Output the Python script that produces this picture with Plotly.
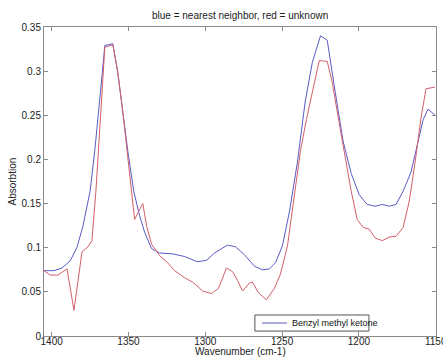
import plotly.graph_objects as go

# Blue = nearest neighbor (Benzyl methyl ketone)
blue_wn = [1405, 1398.5, 1393.3, 1388, 1383.6, 1379.7, 1375, 1372, 1368.6, 1365.4, 1360.2,
           1357, 1353.7, 1350.4, 1346.6, 1342.7, 1339.4, 1335, 1329.7, 1321.2, 1313.4, 1305,
           1299, 1294, 1285.5, 1280.3, 1274.5, 1268, 1262.8, 1258.2, 1254.3, 1249.8, 1245.2,
           1240, 1235, 1230.3, 1225, 1220.6, 1215.4, 1210.2, 1205, 1199.8, 1194.6, 1189.4,
           1184.8, 1180.3, 1175.8, 1171.2, 1166, 1162.1, 1158.2, 1155, 1150.4]
blue_abs = [0.074, 0.074, 0.077, 0.085, 0.100, 0.124, 0.164, 0.209, 0.270, 0.329, 0.331,
            0.299, 0.254, 0.209, 0.164, 0.136, 0.117, 0.099, 0.094, 0.093, 0.090, 0.084,
            0.086, 0.094, 0.103, 0.101, 0.092, 0.079, 0.075, 0.076, 0.083, 0.102, 0.141,
            0.197, 0.265, 0.310, 0.340, 0.335, 0.276, 0.220, 0.184, 0.160, 0.149, 0.147,
            0.149, 0.147, 0.149, 0.164, 0.186, 0.214, 0.245, 0.257, 0.250]

# Red = unknown
red_wn = [1405, 1401, 1396, 1390, 1385.5, 1380.3, 1376.4, 1373.8, 1371.2, 1368.6, 1365.4,
          1360.2, 1357, 1353.7, 1350.4, 1347.9, 1346, 1344, 1340.7, 1338.1, 1335, 1329.7,
          1324.5, 1320, 1313.4, 1308.2, 1301.7, 1296, 1291.4, 1286.2, 1282.3, 1279, 1275.8,
          1271.2, 1269.3, 1265.4, 1260.2, 1255, 1251.1, 1246.5, 1242, 1238.1, 1234.2, 1230.3,
          1225.8, 1220.6, 1217.3, 1214.1, 1209.5, 1205, 1201.1, 1197.2, 1193.3, 1189.4,
          1184.8, 1180.3, 1175.8, 1171.2, 1167.3, 1163.4, 1159.5, 1156.3, 1150.4]
red_abs = [0.074, 0.069, 0.069, 0.076, 0.029, 0.095, 0.101, 0.108, 0.164, 0.242, 0.327,
           0.330, 0.299, 0.254, 0.203, 0.164, 0.132, 0.139, 0.150, 0.124, 0.104, 0.091,
           0.083, 0.074, 0.066, 0.061, 0.051, 0.048, 0.054, 0.077, 0.073, 0.063, 0.051,
           0.060, 0.061, 0.049, 0.041, 0.054, 0.070, 0.102, 0.158, 0.209, 0.245, 0.276,
           0.312, 0.311, 0.287, 0.254, 0.209, 0.164, 0.132, 0.123, 0.121, 0.111,
           0.108, 0.112, 0.113, 0.123, 0.152, 0.197, 0.248, 0.280, 0.282]

x_ticks = [1400, 1350, 1300, 1250, 1200, 1150]
y_ticks = [0, 0.05, 0.1, 0.15, 0.2, 0.25, 0.3, 0.35]
y_ticktext = ["0", "0.05", "0.1", "0.15", "0.2", "0.25", "0.3", "0.35"]
legend_label = "Benzyl methyl ketone"

BLUE = "rgb(90,90,200)"
RED = "rgb(212,95,105)"
FONT = "Liberation Sans, Arial, sans-serif"

fig = go.Figure()
fig.add_trace(go.Scatter(x=blue_wn, y=blue_abs, mode="lines", name=legend_label,
                         line=dict(color=BLUE, width=1), showlegend=False))
fig.add_trace(go.Scatter(x=red_wn, y=red_abs, mode="lines", name="unknown",
                         line=dict(color=RED, width=1), showlegend=False))

axis_common = dict(showgrid=False, zeroline=False, showline=True, linecolor="#8a8a8a",
                   linewidth=1, mirror="ticks", ticks="inside", ticklen=4, automargin=False,
                   tickcolor="#8a8a8a", tickfont=dict(family=FONT, size=10, color="#222"))

# legend box drawn as layout decoration (paper coordinates)
lg_x0, lg_x1, lg_y0, lg_y1 = 0.538, 0.829, 0.016, 0.068
lg_ymid = (lg_y0 + lg_y1) / 2

fig.update_layout(
    width=443, height=358,
    margin=dict(l=44, r=7, t=27, b=22),
    paper_bgcolor="white", plot_bgcolor="white",
    font=dict(family=FONT, size=10, color="#222"),
    xaxis=dict(range=[1405, 1149.8], tickvals=x_ticks, ticklabelstandoff=-4,
               ticklabeloverflow="allow", **axis_common),
    yaxis=dict(range=[0, 0.35], tickvals=y_ticks, ticktext=y_ticktext, **axis_common),
    showlegend=False,
    shapes=[
        dict(type="rect", xref="paper", yref="paper", x0=lg_x0, x1=lg_x1, y0=lg_y0, y1=lg_y1,
             line=dict(color="#555", width=1), fillcolor="white", layer="above"),
        dict(type="line", xref="paper", yref="paper", x0=0.556, x1=0.620, y0=lg_ymid,
             y1=lg_ymid, line=dict(color=BLUE, width=1), layer="above"),
    ],
    annotations=[
        dict(text=legend_label, xref="paper", yref="paper", x=0.628, y=lg_ymid,
             xanchor="left", yanchor="middle", showarrow=False,
             font=dict(family=FONT, size=9, color="#111")),
        dict(text="blue = nearest neighbor, red = unknown", xref="paper", yref="paper",
             x=0.5, y=1, yanchor="bottom", yshift=4, showarrow=False,
             font=dict(family=FONT, size=10, color="#222")),
        dict(text="Wavenumber (cm-1)", xref="paper", yref="paper", x=0.5, y=0,
             yanchor="middle", yshift=-15, showarrow=False,
             font=dict(family=FONT, size=10, color="#222")),
        dict(text="Absorbtion", xref="paper", yref="paper", x=0, y=0.5, xanchor="center",
             xshift=-32, textangle=-90, showarrow=False,
             font=dict(family=FONT, size=10, color="#222")),
    ],
)

fig.write_html("out.html")
